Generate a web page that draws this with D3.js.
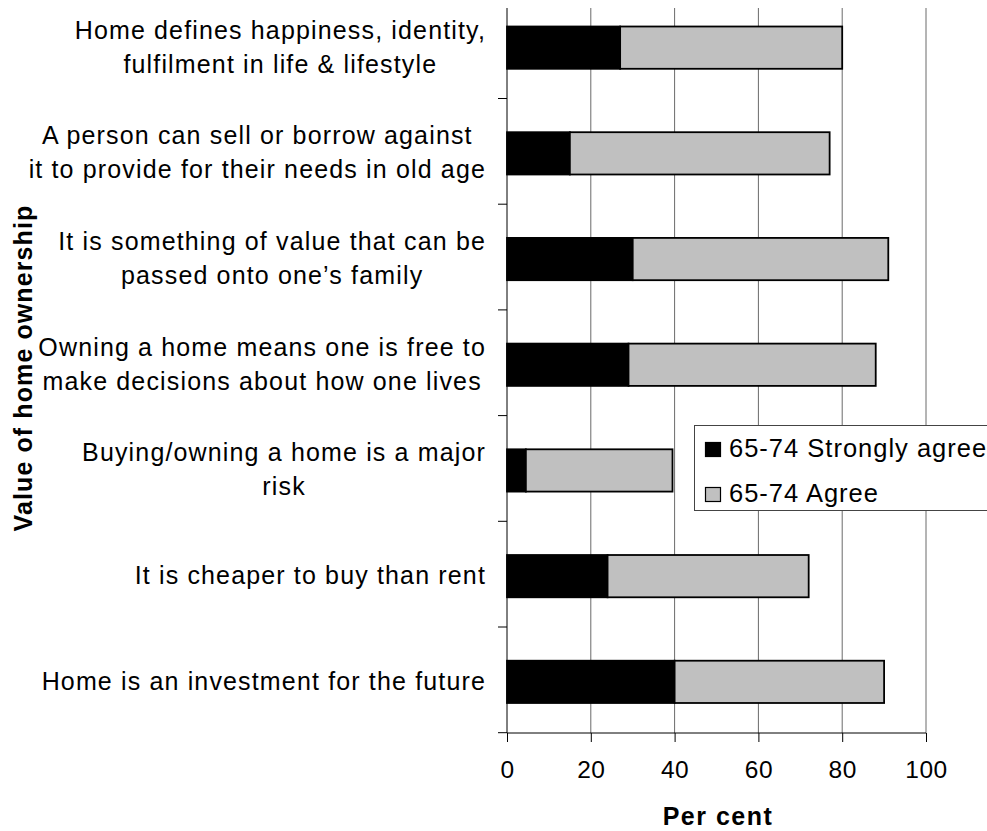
<!DOCTYPE html>
<html>
<head>
<meta charset="utf-8">
<script src="https://cdn.jsdelivr.net/npm/d3@7"></script>
<style>
html,body{margin:0;padding:0;background:#fff;}
svg{display:block;font-family:"Liberation Sans",Arial,sans-serif;}
</style>
</head>
<body>
<svg id="chart" width="987" height="831"></svg>
<script>
const categories = [
  ["Home defines happiness, identity,", "fulfilment in life & lifestyle"],
  ["A person can sell or borrow against", "it to provide for their needs in old age"],
  ["It is something of value that can be", "passed onto one\u2019s family"],
  ["Owning a home means one is free to", "make decisions about how one lives"],
  ["Buying/owning a home is a major", "risk"],
  ["It is cheaper to buy than rent"],
  ["Home is an investment for the future"]
];
const stronglyAgree = [27, 15, 30, 29, 4.5, 24, 40];
const agree = [53, 62, 61, 59, 35, 48, 50];
const seriesNames = ["65-74 Strongly agree", "65-74 Agree"];
const xTicks = [0, 20, 40, 60, 80, 100];

const svg = d3.select("#chart");
const x = d3.scaleLinear().domain([0, 100]).range([507, 926]);
const idx = d3.range(categories.length);
const y = d3.scaleBand().domain(idx).range([-7.2, 732.7]).paddingInner(0.6).paddingOuter(0.3);
const plotTop = 8, plotBottom = 733;

// gridlines
svg.append("g").selectAll("line").data(xTicks.filter(d => d > 0)).join("line")
  .attr("x1", d => x(d)).attr("x2", d => x(d))
  .attr("y1", plotTop).attr("y2", plotBottom)
  .attr("stroke", "#6a6a6a").attr("stroke-width", 1);

// bars
const rows = idx.map(i => ({i, s: stronglyAgree[i], a: agree[i]}));
const g = svg.append("g");
g.selectAll("rect.s").data(rows).join("rect").attr("class", "s")
  .attr("x", d => x(0)).attr("y", d => y(d.i) + 2)
  .attr("width", d => x(d.s) - x(0)).attr("height", y.bandwidth())
  .attr("fill", "#000").attr("stroke", "#000").attr("stroke-width", 1.8);
g.selectAll("rect.a").data(rows).join("rect").attr("class", "a")
  .attr("x", d => x(d.s)).attr("y", d => y(d.i) + 2)
  .attr("width", d => x(d.s + d.a) - x(d.s)).attr("height", y.bandwidth())
  .attr("fill", "#c0c0c0").attr("stroke", "#000").attr("stroke-width", 1.8);

// y axis line + ticks at category boundaries
svg.append("line").attr("x1", x(0)).attr("x2", x(0)).attr("y1", plotTop).attr("y2", plotBottom)
  .attr("stroke", "#000").attr("stroke-width", 1);
const bounds = d3.range(1, categories.length + 1).map(k => y.range()[0] + k * y.step());
svg.append("g").selectAll("line").data(bounds).join("line")
  .attr("x1", x(0) - 9).attr("x2", x(0)).attr("y1", d => d).attr("y2", d => d)
  .attr("stroke", "#000").attr("stroke-width", 1);

// x axis
const xAxis = d3.axisBottom(x).tickValues(xTicks).tickSize(9).tickPadding(19);
const xa = svg.append("g").attr("transform", `translate(0,${plotBottom})`).call(xAxis);
xa.select(".domain").attr("stroke", "#000").attr("d", `M${x(0)},0H${x(100)}`);
xa.selectAll(".tick line").attr("stroke", "#000");
xa.selectAll(".tick text").attr("font-size", 24.5).attr("fill", "#000")
  .attr("letter-spacing", "0.5px")
  .attr("font-family", "Liberation Sans, Arial, sans-serif");

svg.append("text").attr("x", 718).attr("y", 825).attr("text-anchor", "middle")
  .attr("font-size", 25).attr("font-weight", "bold").attr("letter-spacing", "1.5px")
  .text("Per cent");

svg.append("text").attr("transform", "translate(32,368) rotate(-90)")
  .attr("text-anchor", "middle").attr("font-size", 25).attr("font-weight", "bold")
  .attr("letter-spacing", "1.1px")
  .text("Value of home ownership");

// category labels
const lineH = 34;
const labelRight = 486;
categories.forEach((lines, i) => {
  const cy = y(i) + 2 + y.bandwidth() / 2;
  const t = svg.append("text").attr("font-size", 25).attr("text-anchor", "middle")
    .attr("letter-spacing", "1.15px");
  const n = lines.length;
  const tspans = lines.map((ln, k) => t.append("tspan")
    .attr("y", cy + (k - (n - 1) / 2) * lineH + 8).text(ln));
  const w = d3.max(tspans, s => s.node().getComputedTextLength());
  tspans.forEach(s => s.attr("x", labelRight - w / 2));
});

// legend
const lg = svg.append("g");
lg.append("rect").attr("x", 694.5).attr("y", 425.5).attr("width", 300).attr("height", 85)
  .attr("fill", "#fff").attr("stroke", "#444").attr("stroke-width", 1);
const fills = ["#000", "#c0c0c0"];
seriesNames.forEach((nm, k) => {
  lg.append("rect").attr("x", 705.5).attr("y", 442.5 + k * 45).attr("width", 15).attr("height", 14)
    .attr("fill", fills[k]).attr("stroke", "#000").attr("stroke-width", 1.2);
  lg.append("text").attr("x", 729).attr("y", 456.5 + k * 45).attr("font-size", 25.5)
    .attr("letter-spacing", "1px").text(nm);
});
</script>
</body>
</html>
